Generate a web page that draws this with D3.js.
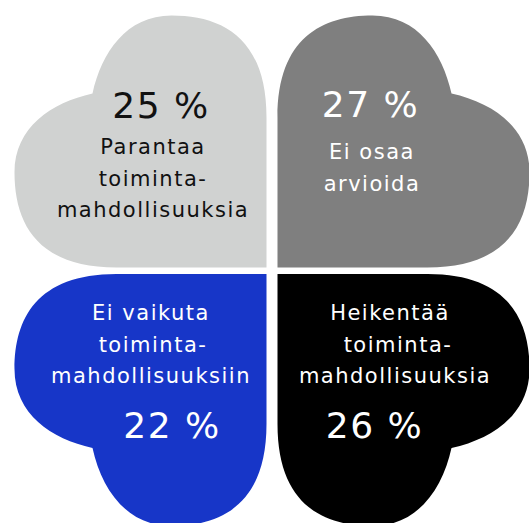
<!DOCTYPE html>
<html>
<head>
<meta charset="utf-8">
<script src="https://cdn.jsdelivr.net/npm/d3@7"></script>
<style>
  body { margin: 0; background: #fff; }
  svg { display: block; }
  .num { font-family: "DejaVu Sans", sans-serif; font-size: 36px; letter-spacing: 1.5px; }
  .lbl { font-family: "DejaVu Sans", sans-serif; font-size: 21px; letter-spacing: 1.5px; }
</style>
</head>
<body>
<div id="chart"></div>
<script>
// Data: four answers, top-left, top-right, bottom-left, bottom-right
var categories = ["Parantaa toimintamahdollisuuksia", "Ei osaa arvioida", "Ei vaikuta toimintamahdollisuuksiin", "Heikentää toimintamahdollisuuksia"];
var values = [25, 27, 22, 26];
var labelLines = [
  ["Parantaa", "toiminta-", "mahdollisuuksia"],
  ["Ei osaa", "arvioida"],
  ["Ei vaikuta", "toiminta-", "mahdollisuuksiin"],
  ["Heikentää", "toiminta-", "mahdollisuuksia"]
];
var colors = ["#d0d2d1", "#7f7f7f", "#1736c8", "#000000"];
var textColors = ["#111111", "#ffffff", "#ffffff", "#ffffff"];

var svgWidth = 529;
var svgHeight = 523;

// inner corner of each petal, and direction it grows
var layout = [
  { cx: 266.5, cy: 267.5, sx: -1, sy: -1, num: [161, 118], lbl: [153, 154], lineOff: [0, 0, 0], numFirst: true },
  { cx: 277.5, cy: 267.5, sx: 1, sy: -1, num: [370.5, 117], lbl: [372, 159], lineOff: [0, 0], numFirst: true },
  { cx: 266.5, cy: 274, sx: -1, sy: 1, num: [172, 438], lbl: [151, 320], lineOff: [0, 2, 0], numFirst: false },
  { cx: 277.5, cy: 274, sx: 1, sy: 1, num: [374.5, 438], lbl: [392, 320], lineOff: [-2, 6, 3], numFirst: false }
];
var lineHeight = 31.5;

var color = d3.scaleOrdinal().domain(categories).range(colors);

var svg = d3.select("#chart")
  .append("svg")
  .attr("width", svgWidth)
  .attr("height", svgHeight);

// heart-shaped petal in local coords (u away horizontally, v away vertically)
function petalPath(q) {
  var p = d3.path();
  function pt(u, v) { return [q.cx + q.sx * u, q.cy + q.sy * v]; }
  function mv(u, v) { var a = pt(u, v); p.moveTo(a[0], a[1]); }
  function ln(u, v) { var a = pt(u, v); p.lineTo(a[0], a[1]); }
  function cb(u1, v1, u2, v2, u, v) {
    var a = pt(u1, v1), b = pt(u2, v2), c = pt(u, v);
    p.bezierCurveTo(a[0], a[1], b[0], b[1], c[0], c[1]);
  }
  mv(0, 0);
  ln(0, 150);
  cb(0, 230, 45, 252, 95, 252);
  cb(140, 252, 165, 215, 174, 174);
  cb(215, 165, 252, 140, 252, 95);
  cb(252, 45, 230, 0, 150, 0);
  p.closePath();
  return p.toString();
}

var groups = svg.selectAll("g.petal")
  .data(categories)
  .enter()
  .append("g")
  .attr("class", "petal");

groups.append("path")
  .attr("d", (d, i) => petalPath(layout[i]))
  .attr("fill", d => color(d));

groups.append("text")
  .attr("class", "num")
  .attr("x", (d, i) => layout[i].num[0])
  .attr("y", (d, i) => layout[i].num[1])
  .attr("text-anchor", "middle")
  .attr("fill", (d, i) => textColors[i])
  .text((d, i) => values[i] + " %");

groups.each(function(d, i) {
  var q = layout[i];
  d3.select(this).selectAll("text.lbl")
    .data(labelLines[i])
    .enter()
    .append("text")
    .attr("class", "lbl")
    .attr("x", (t, j) => q.lbl[0] + q.lineOff[j])
    .attr("y", (t, j) => q.lbl[1] + j * lineHeight)
    .attr("text-anchor", "middle")
    .attr("fill", textColors[i])
    .text(t => t);
});
</script>
</body>
</html>
